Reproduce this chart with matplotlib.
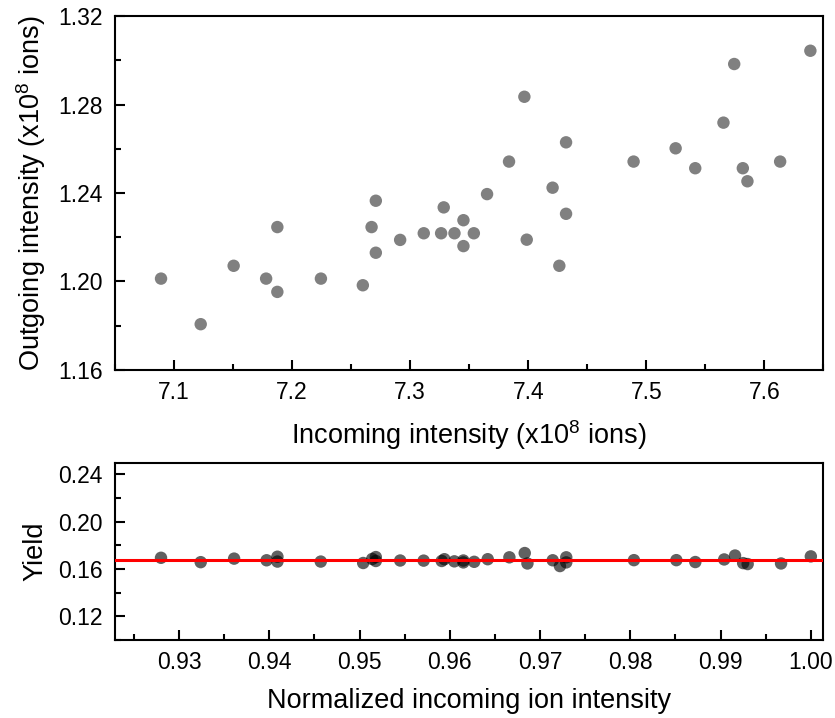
import matplotlib
matplotlib.use("Agg")
import matplotlib.pyplot as plt
from matplotlib.ticker import MultipleLocator

plt.rcParams['font.family'] = ['Liberation Sans', 'DejaVu Sans']
plt.rcParams['mathtext.fontset'] = 'custom'
plt.rcParams['mathtext.rm'] = 'Liberation Sans'
plt.rcParams['mathtext.default'] = 'regular'

# incoming / outgoing intensity (x10^8 ions)
incoming = [7.089, 7.1226, 7.1505, 7.178, 7.1875, 7.1875, 7.2244, 7.2599, 7.2673,
            7.2709, 7.2709, 7.2915, 7.3115, 7.3284, 7.3262, 7.3375, 7.3451, 7.3451,
            7.3539, 7.3651, 7.3837, 7.3967, 7.3987, 7.4206, 7.4263, 7.432, 7.432,
            7.4892, 7.5248, 7.5414, 7.5653, 7.5744, 7.5817, 7.5856, 7.6133, 7.6389]
outgoing = [1.2013, 1.1807, 1.2071, 1.2013, 1.2246, 1.1953, 1.2013, 1.1983, 1.2246,
            1.2365, 1.2130, 1.2188, 1.2218, 1.2335, 1.2218, 1.2218, 1.2277, 1.2160,
            1.2218, 1.2395, 1.2542, 1.2835, 1.2189, 1.2424, 1.2071, 1.2629, 1.2306,
            1.2542, 1.2602, 1.2512, 1.2718, 1.2983, 1.2512, 1.2453, 1.2542, 1.3043]

# lower panel
norm_incoming = [0.9280, 0.9324, 0.9361, 0.9397, 0.9409, 0.9409, 0.9457, 0.9504, 0.9514,
                 0.9518, 0.9518, 0.9545, 0.9571, 0.9594, 0.9591, 0.9605, 0.9615, 0.9615,
                 0.9627, 0.9642, 0.9666, 0.9683, 0.9686, 0.9714, 0.9722, 0.9729, 0.9729,
                 0.9804, 0.9851, 0.9872, 0.9904, 0.9916, 0.9925, 0.9930, 0.9967, 1.0000]
yields = [0.1695, 0.1658, 0.1688, 0.1674, 0.1704, 0.1663, 0.1663, 0.1651, 0.1685,
          0.1701, 0.1668, 0.1672, 0.1671, 0.1683, 0.1668, 0.1665, 0.1672, 0.1656,
          0.1661, 0.1683, 0.1699, 0.1735, 0.1647, 0.1674, 0.1625, 0.1699, 0.1656,
          0.1675, 0.1675, 0.1659, 0.1681, 0.1714, 0.1650, 0.1642, 0.1647, 0.1707]
mean_yield = 0.1677

fig = plt.figure(figsize=(8.35, 7.18), dpi=100)
ax1 = fig.add_axes([0.1377, 0.4847, 0.8485, 0.4930])
ax2 = fig.add_axes([0.1377, 0.1086, 0.8485, 0.2472])

ax1.scatter(incoming, outgoing, s=80, color='#808080', edgecolors='none', zorder=3)
ax1.set_xlim(7.05, 7.65)
ax1.set_ylim(1.16, 1.32)
ax1.xaxis.set_major_locator(MultipleLocator(0.1))
ax1.xaxis.set_minor_locator(MultipleLocator(0.05))
ax1.yaxis.set_major_locator(MultipleLocator(0.04))
ax1.yaxis.set_minor_locator(MultipleLocator(0.02))
ax1.xaxis.set_major_formatter(plt.FormatStrFormatter('%.1f'))
ax1.yaxis.set_major_formatter(plt.FormatStrFormatter('%.2f'))
ax1.set_xlabel('Incoming intensity (x10$^{8}$ ions)', fontsize=19.5, labelpad=10)
ax1.set_ylabel('Outgoing intensity (x10$^{8}$ ions)', fontsize=19.5, labelpad=7)

ax2.scatter(norm_incoming, yields, s=80, color='k', alpha=0.62, edgecolors='none', zorder=3)
ax2.axhline(mean_yield, color='red', lw=2.2, zorder=4)
ax2.set_xlim(0.9229, 1.0014)
ax2.set_ylim(0.10, 0.25)
ax2.xaxis.set_major_locator(MultipleLocator(0.01))
ax2.xaxis.set_minor_locator(MultipleLocator(0.005))
ax2.yaxis.set_major_locator(MultipleLocator(0.04))
ax2.yaxis.set_minor_locator(MultipleLocator(0.02))
ax2.xaxis.set_major_formatter(plt.FormatStrFormatter('%.2f'))
ax2.yaxis.set_major_formatter(plt.FormatStrFormatter('%.2f'))
ax2.set_xlabel('Normalized incoming ion intensity', fontsize=19.5, labelpad=10)
ax2.set_ylabel('Yield', fontsize=19.5, labelpad=7)

for ax in (ax1, ax2):
    for sp in ax.spines.values():
        sp.set_linewidth(1.5)
    ax.tick_params(which='both', direction='in', top=False, right=False,
                   width=1.5, labelsize=16.5)
    ax.tick_params(which='major', length=7.2)
    ax.tick_params(which='minor', length=4)
    ax.tick_params(axis='x', which='major', pad=8)
    ax.tick_params(axis='y', which='major', pad=9)

fig.savefig('out.png', dpi=100)
